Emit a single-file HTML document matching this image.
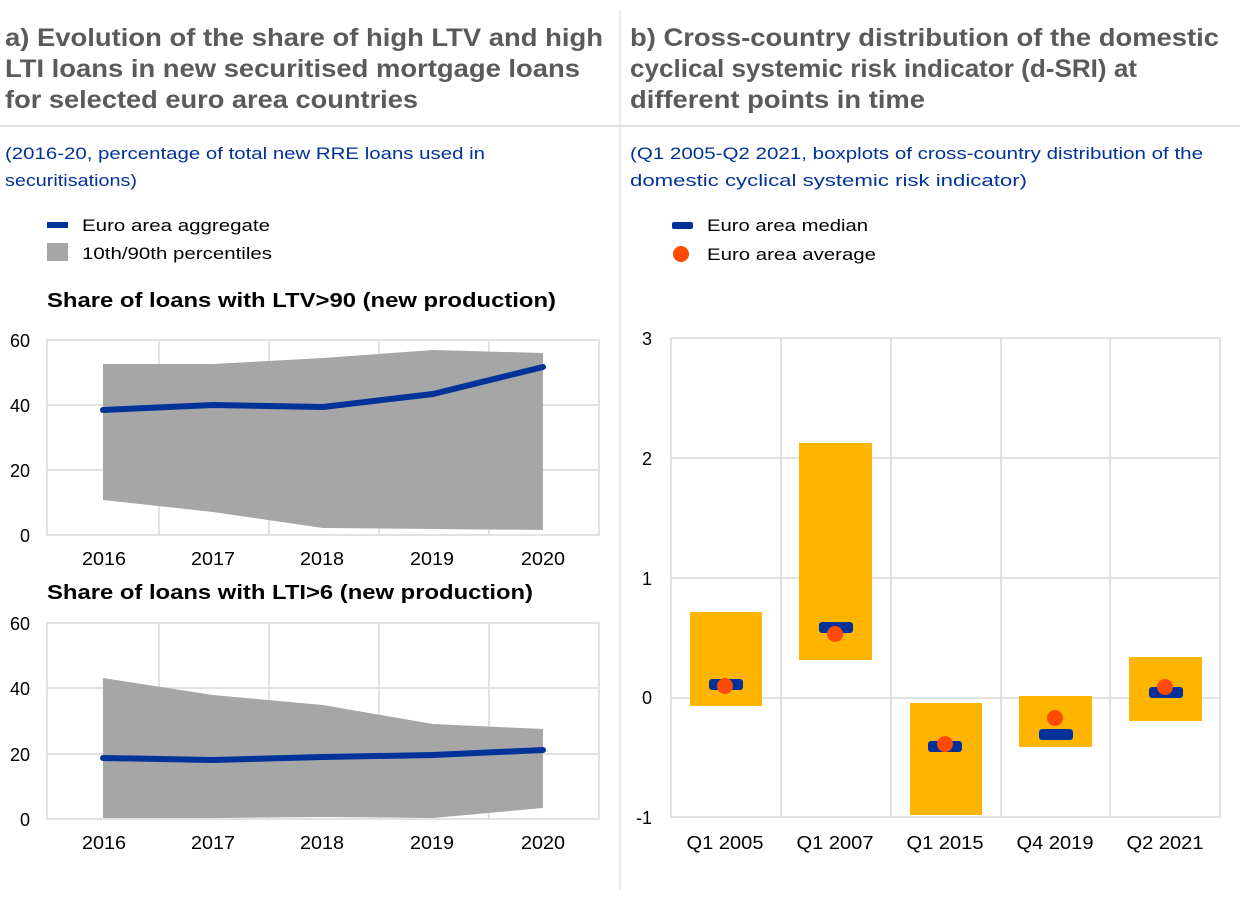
<!DOCTYPE html>
<html><head><meta charset="utf-8"><style>
body{margin:0;width:1240px;height:898px;background:#fff;font-family:"Liberation Sans",sans-serif;overflow:hidden}
</style></head><body>
<svg width="1240" height="898" xmlns="http://www.w3.org/2000/svg" font-family="Liberation Sans, sans-serif">
<line x1="620" y1="10" x2="620" y2="890" stroke="#d9d9d9" stroke-width="1"/>
<line x1="0" y1="126" x2="1240" y2="126" stroke="#d9d9d9" stroke-width="1.5"/>
<g font-size="25" font-weight="bold" fill="#5a5a5a" lengthAdjust="spacingAndGlyphs">
<text x="5" y="46" textLength="598" lengthAdjust="spacingAndGlyphs">a) Evolution of the share of high LTV and high</text>
<text x="5" y="77" textLength="575" lengthAdjust="spacingAndGlyphs">LTI loans in new securitised mortgage loans</text>
<text x="5" y="108" textLength="413" lengthAdjust="spacingAndGlyphs">for selected euro area countries</text>
<text x="630" y="46" textLength="589" lengthAdjust="spacingAndGlyphs">b) Cross-country distribution of the domestic</text>
<text x="630" y="77" textLength="507" lengthAdjust="spacingAndGlyphs">cyclical systemic risk indicator (d-SRI) at</text>
<text x="630" y="108" textLength="295" lengthAdjust="spacingAndGlyphs">different points in time</text>
</g>
<g font-size="17" fill="#003299">
<text x="5" y="159" textLength="480" lengthAdjust="spacingAndGlyphs">(2016-20, percentage of total new RRE loans used in</text>
<text x="5" y="186" textLength="132" lengthAdjust="spacingAndGlyphs">securitisations)</text>
<text x="630" y="159" textLength="573" lengthAdjust="spacingAndGlyphs">(Q1 2005-Q2 2021, boxplots of cross-country distribution of the</text>
<text x="630" y="186" textLength="397" lengthAdjust="spacingAndGlyphs">domestic cyclical systemic risk indicator)</text>
</g>
<g font-size="17" fill="#000">
<rect x="47" y="222" width="21" height="6" fill="#003299"/>
<text x="82" y="231" textLength="188" lengthAdjust="spacingAndGlyphs">Euro area aggregate</text>
<rect x="47" y="243" width="21" height="18" fill="#a6a6a6"/>
<text x="82" y="259" textLength="190" lengthAdjust="spacingAndGlyphs">10th/90th percentiles</text>
<rect x="672" y="222" width="21" height="7" rx="2" fill="#003299"/>
<text x="707" y="231" textLength="161" lengthAdjust="spacingAndGlyphs">Euro area median</text>
<circle cx="681" cy="254" r="8" fill="#ff4b00"/>
<text x="707" y="260" textLength="169" lengthAdjust="spacingAndGlyphs">Euro area average</text>
<text x="47" y="307" font-size="20" font-weight="bold" textLength="509" lengthAdjust="spacingAndGlyphs">Share of loans with LTV&gt;90 (new production)</text>
<text x="47" y="599" font-size="20" font-weight="bold" textLength="486" lengthAdjust="spacingAndGlyphs">Share of loans with LTI&gt;6 (new production)</text>
</g>
<g stroke="#d9d9d9" stroke-width="1.5" fill="none">
<rect x="47" y="340" width="552" height="195"/>
<line x1="47" y1="405" x2="599" y2="405"/><line x1="47" y1="470" x2="599" y2="470"/>
<line x1="159" y1="340" x2="159" y2="535"/><line x1="269" y1="340" x2="269" y2="535"/><line x1="379" y1="340" x2="379" y2="535"/><line x1="489" y1="340" x2="489" y2="535"/>
<rect x="47" y="623" width="552" height="196"/>
<line x1="47" y1="688" x2="599" y2="688"/><line x1="47" y1="754" x2="599" y2="754"/>
<line x1="159" y1="623" x2="159" y2="819"/><line x1="269" y1="623" x2="269" y2="819"/><line x1="379" y1="623" x2="379" y2="819"/><line x1="489" y1="623" x2="489" y2="819"/>
</g>
<polygon fill="#a6a6a6" points="103,364 213,364 323,358 433,350 543,353 543,530 433,529 323,528 213,512 103,500"/>
<polyline fill="none" stroke="#003299" stroke-width="6" stroke-linecap="round" stroke-linejoin="round" points="103,410 213,405 323,407 433,394 543,367"/>
<polygon fill="#a6a6a6" points="103,678 213,695 323,705 433,724 543,729 543,808 433,818 323,817 213,818 103,818"/>
<polyline fill="none" stroke="#003299" stroke-width="6" stroke-linecap="round" stroke-linejoin="round" points="103,758 213,760 323,757 433,755 543,750"/>
<g font-size="18" fill="#000" text-anchor="end">
<text x="30" y="347">60</text><text x="30" y="412">40</text><text x="30" y="477">20</text><text x="30" y="542">0</text>
<text x="30" y="630">60</text><text x="30" y="695">40</text><text x="30" y="761">20</text><text x="30" y="826">0</text>
<text x="652" y="345">3</text><text x="652" y="465">2</text><text x="652" y="585">1</text><text x="652" y="704">0</text><text x="652" y="824">-1</text>
</g>
<g font-size="18" fill="#000" text-anchor="middle">
<text x="104" y="565" textLength="44" lengthAdjust="spacingAndGlyphs">2016</text><text x="213" y="565" textLength="44" lengthAdjust="spacingAndGlyphs">2017</text><text x="322" y="565" textLength="44" lengthAdjust="spacingAndGlyphs">2018</text><text x="432" y="565" textLength="44" lengthAdjust="spacingAndGlyphs">2019</text><text x="543" y="565" textLength="44" lengthAdjust="spacingAndGlyphs">2020</text>
<text x="104" y="849" textLength="44" lengthAdjust="spacingAndGlyphs">2016</text><text x="213" y="849" textLength="44" lengthAdjust="spacingAndGlyphs">2017</text><text x="322" y="849" textLength="44" lengthAdjust="spacingAndGlyphs">2018</text><text x="432" y="849" textLength="44" lengthAdjust="spacingAndGlyphs">2019</text><text x="543" y="849" textLength="44" lengthAdjust="spacingAndGlyphs">2020</text>
<text x="725" y="849" textLength="77" lengthAdjust="spacingAndGlyphs">Q1 2005</text><text x="835" y="849" textLength="77" lengthAdjust="spacingAndGlyphs">Q1 2007</text><text x="945" y="849" textLength="77" lengthAdjust="spacingAndGlyphs">Q1 2015</text><text x="1055" y="849" textLength="77" lengthAdjust="spacingAndGlyphs">Q4 2019</text><text x="1165" y="849" textLength="77" lengthAdjust="spacingAndGlyphs">Q2 2021</text>
</g>
<g stroke="#d9d9d9" stroke-width="1.5" fill="none">
<rect x="671" y="338" width="549" height="479"/>
<line x1="671" y1="458" x2="1220" y2="458"/><line x1="671" y1="578" x2="1220" y2="578"/><line x1="671" y1="698" x2="1220" y2="698"/>
<line x1="781" y1="338" x2="781" y2="817"/><line x1="891" y1="338" x2="891" y2="817"/><line x1="1001" y1="338" x2="1001" y2="817"/><line x1="1110" y1="338" x2="1110" y2="817"/>
</g>
<g fill="#ffb400">
<rect x="690" y="612" width="72" height="94"/>
<rect x="799" y="443" width="73" height="217"/>
<rect x="910" y="703" width="72" height="112"/>
<rect x="1019" y="696" width="73" height="51"/>
<rect x="1129" y="657" width="73" height="64"/>
</g>
<g fill="#003299">
<rect x="709" y="679" width="34" height="11" rx="3"/>
<rect x="819" y="622" width="34" height="11" rx="3"/>
<rect x="928" y="741" width="34" height="11" rx="3"/>
<rect x="1039" y="729" width="34" height="11" rx="3"/>
<rect x="1149" y="687" width="34" height="11" rx="3"/>
</g>
<g fill="#ff4b00">
<circle cx="725" cy="686" r="8"/><circle cx="835" cy="634" r="8"/><circle cx="945" cy="744" r="8"/><circle cx="1055" cy="718" r="8"/><circle cx="1165" cy="687" r="8"/>
</g>
</svg>
</body></html>
